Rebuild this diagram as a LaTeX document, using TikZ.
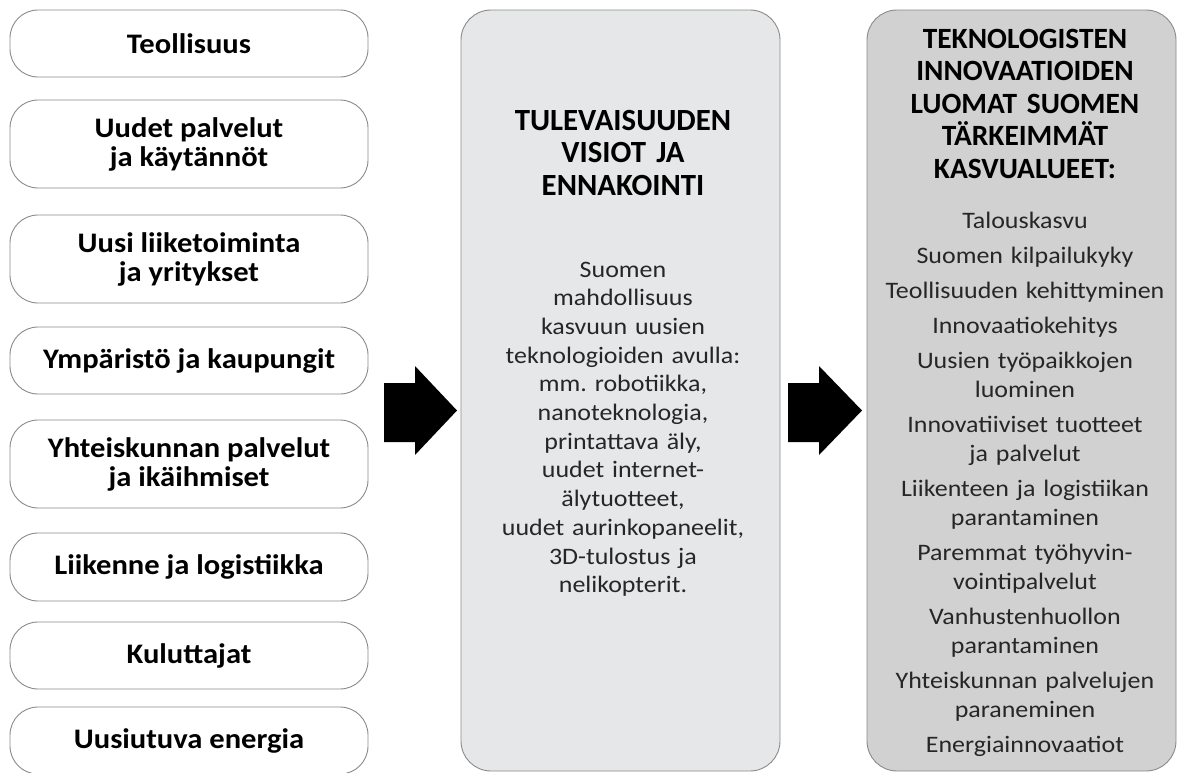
\documentclass[tikz,border=0pt]{standalone}
\usepackage{fontspec}
\setmainfont{Carlito}
\newfontfamily\bodyfont[FakeStretch=1.1]{Carlito}
\newfontfamily\leftfont[FakeStretch=1.08]{Carlito}
\definecolor{boxline}{HTML}{8A8A8A}
\definecolor{midfill}{HTML}{E6E7E8}
\definecolor{rightfill}{HTML}{D1D1D1}
\frenchspacing
\begin{document}
\begin{tikzpicture}[x=1pt,y=-1pt,
  leftbox/.style={draw=boxline, line width=0.9pt, rounded corners=28pt, fill=white,
    minimum width=358pt, inner sep=0pt, align=center,
    font=\leftfont\bfseries\fontsize{28.3}{29}\selectfont},
  bigbox/.style={draw=boxline, line width=0.9pt, rounded corners=30pt, inner sep=0pt},
  titletext/.style={anchor=base, inner sep=0pt, text width=305pt, align=center,
    font=\bfseries\fontsize{30.8}{32.5}\selectfont},
  bodytext/.style={anchor=base, inner sep=0pt, text width=305pt, align=center,
    font=\bodyfont\fontsize{23.6}{28.7}\selectfont, text=black!85},
  blockarrow/.style={fill=black}
]
\useasboundingbox (0,0) rectangle (1179,772);
% left column
\node[leftbox, minimum height=67pt] (l1) at (189,43.5) {Teollisuus};
\node[leftbox, minimum height=88pt] (l2) at (189,144) {Uudet palvelut\\ja käytännöt};
\node[leftbox, minimum height=88pt] (l3) at (189,259) {Uusi liiketoiminta\\ja yritykset};
\node[leftbox, minimum height=67pt] (l4) at (189,360.5) {Ympäristö ja kaupungit};
\node[leftbox, minimum height=88pt] (l5) at (189,464) {Yhteiskunnan palvelut\\ja ikäihmiset};
\node[leftbox, minimum height=68pt] (l6) at (189,567) {Liikenne ja logistiikka};
\node[leftbox, minimum height=67pt] (l7) at (189,655.5) {Kuluttajat};
\node[leftbox, minimum height=67pt] (l8) at (189,740.5) {Uusiutuva energia};
% middle box
\node[bigbox, fill=midfill, minimum width=319pt, minimum height=761pt] (mid) at (620.5,390.5) {};
\node[titletext] (midtitle) at (623,130) {TULEVAISUUDEN\\VISIOT JA\\ENNAKOINTI};
\node[bodytext] (midbody) at (623,277) {Suomen\\mahdollisuus\\kasvuun uusien\\teknologioiden avulla:\\mm. robotiikka,\\nanoteknologia,\\printattava äly,\\uudet internet-\\älytuotteet,\\uudet aurinkopaneelit,\\3D-tulostus ja\\nelikopterit.};
% right box
\node[bigbox, fill=rightfill, minimum width=309pt, minimum height=761pt] (right) at (1021.5,390.5) {};
\node[titletext, font=\bfseries\fontsize{29.4}{32.5}\selectfont] (righttitle) at (1025,48) {TEKNOLOGISTEN\\INNOVAATIOIDEN\\LUOMAT SUOMEN\\TÄRKEIMMÄT\\KASVUALUEET:};
\node[bodytext] (rightbody) at (1025,228) {Talouskasvu\\[6.5pt]Suomen kilpailukyky\\[6.5pt]Teollisuuden kehittyminen\\[6.5pt]Innovaatiokehitys\\[6.5pt]Uusien työpaikkojen\\luominen\\[6.5pt]Innovatiiviset tuotteet\\ja palvelut\\[6.5pt]Liikenteen ja logistiikan\\parantaminen\\[6.5pt]Paremmat työhyvin-\\vointipalvelut\\[6.5pt]Vanhustenhuollon\\parantaminen\\[6.5pt]Yhteiskunnan palvelujen\\paraneminen\\[6.5pt]Energiainnovaatiot};
% block arrows
\fill[blockarrow] (384,383) -- (415,383) -- (415,366) -- (457,410.5) -- (415,455) -- (415,442) -- (384,442) -- cycle;
\fill[blockarrow] (788,383) -- (819,383) -- (819,366) -- (862,410.5) -- (819,455) -- (819,442) -- (788,442) -- cycle;
\end{tikzpicture}
\end{document}
